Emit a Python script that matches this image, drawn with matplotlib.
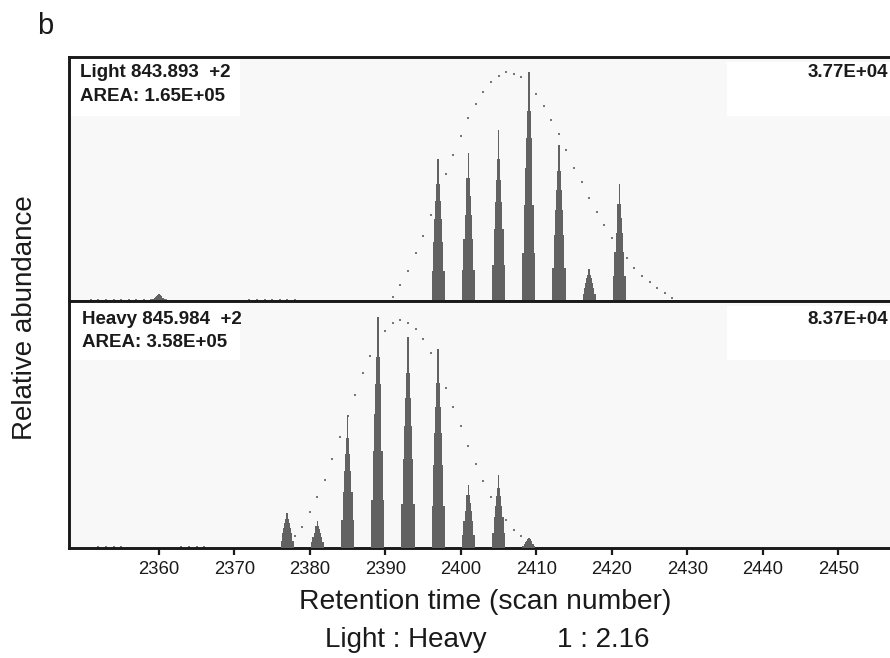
import matplotlib.pyplot as plt
from matplotlib.patches import Rectangle

plt.rcParams['font.family'] = ['Liberation Sans', 'DejaVu Sans']

# peak apexes (scan number) and relative heights, light and heavy traces
light_peak_scan = [2360, 2397, 2401, 2405, 2409, 2413, 2417, 2421]
light_peak_height = [0.03, 0.58, 0.605, 0.70, 0.94, 0.64, 0.13, 0.48]
heavy_peak_scan = [2377, 2381, 2385, 2389, 2393, 2397, 2401, 2405, 2409]
heavy_peak_height = [0.142, 0.108, 0.538, 0.934, 0.855, 0.804, 0.257, 0.295, 0.042]

# dotted envelope (one dot per scan)
light_dot_scan = [2351, 2352, 2353, 2354, 2355, 2356, 2357, 2358, 2359, 2360, 2361,
                  2372, 2373, 2374, 2375, 2376, 2377, 2378,
                  2391, 2392, 2393, 2394, 2395, 2396, 2398, 2399, 2400, 2401,
                  2402, 2403, 2404, 2405, 2406, 2407, 2408, 2410, 2411, 2412,
                  2413, 2414, 2415, 2416, 2417, 2418, 2419, 2420, 2422, 2423,
                  2424, 2425, 2426, 2427, 2428, 2429]
light_dot_value = [0.006] * 11 + [0.006] * 7 + [
    0.018, 0.064, 0.123, 0.195, 0.266, 0.351, 0.52, 0.597, 0.676, 0.749,
    0.807, 0.858, 0.896, 0.923, 0.937, 0.93, 0.917, 0.847, 0.80, 0.74,
    0.683, 0.619, 0.546, 0.488, 0.423, 0.364, 0.311, 0.259, 0.175, 0.134,
    0.102, 0.077, 0.052, 0.032, 0.011, 0.002]
heavy_dot_scan = [2352, 2353, 2354, 2355, 2363, 2364, 2365, 2366,
                  2378, 2379, 2380, 2381, 2382, 2383, 2384, 2385, 2386, 2387,
                  2388, 2390, 2391, 2392, 2393, 2394, 2395, 2396, 2398, 2399,
                  2400, 2401, 2402, 2403, 2404, 2406, 2407, 2408]
heavy_dot_value = [0.006] * 8 + [
    0.047, 0.085, 0.145, 0.206, 0.277, 0.36, 0.45, 0.535, 0.62, 0.707,
    0.777, 0.879, 0.911, 0.923, 0.911, 0.885, 0.847, 0.79, 0.648, 0.571,
    0.495, 0.411, 0.34, 0.27, 0.206, 0.112, 0.074, 0.047]

xticks = [2360, 2370, 2380, 2390, 2400, 2410, 2420, 2430, 2440, 2450]

# stepped shape of each chromatographic peak: fraction of height, width (scans)
step_frac = [0.21, 0.42, 0.58, 0.71, 0.83, 1.0]
step_width = [1.75, 1.33, 0.97, 0.74, 0.5, 0.22]

peak_color = '#626262'
dot_color = '#777777'
bg = '#f8f8f8'
ink = '#1a1a1a'

fig = plt.figure(figsize=(8.9, 6.58), dpi=100)
ax_top = fig.add_axes([0.0775, 1 - 301 / 658, 0.9225, 244 / 658])
ax_bot = fig.add_axes([0.0775, 1 - 548 / 658, 0.9225, 247 / 658])


def draw_trace(ax, peak_x, peak_h, dot_x, dot_y):
    ax.set_facecolor(bg)
    ax.plot(dot_x, dot_y, ls='none', marker='s', ms=2.0, mew=0,
            color=dot_color, zorder=2)
    for frac, w in zip(step_frac, step_width):
        ax.bar(peak_x, [h * frac for h in peak_h], width=w, color=peak_color,
               linewidth=0, zorder=3)
    ax.set_xlim(2348.1, 2456.85)
    ax.set_ylim(0, 1)
    ax.set_yticks([])
    for s in ['left', 'top', 'bottom']:
        ax.spines[s].set_linewidth(2.1)
        ax.spines[s].set_color(ink)
    ax.spines['right'].set_visible(False)
    # white label boxes
    ax.add_patch(Rectangle((0.003, 0.76), 0.205, 0.235, transform=ax.transAxes,
                           facecolor='white', edgecolor='none', zorder=1))
    ax.add_patch(Rectangle((0.802, 0.76), 0.2, 0.22, transform=ax.transAxes,
                           facecolor='white', edgecolor='none', zorder=1))


draw_trace(ax_top, light_peak_scan, light_peak_height, light_dot_scan, light_dot_value)
draw_trace(ax_bot, heavy_peak_scan, heavy_peak_height, heavy_dot_scan, heavy_dot_value)

ax_top.set_xticks([])
ax_bot.set_xticks(xticks)
ax_bot.tick_params(axis='x', direction='out', length=5, width=1.6,
                   labelsize=13.3, pad=4.5, color=ink, labelcolor=ink)

ax_top.text(0.014, 0.935, 'Light 843.893  +2', transform=ax_top.transAxes,
            fontsize=13.5, fontweight='bold', color=ink, va='center')
ax_top.text(0.014, 0.84, 'AREA: 1.65E+05', transform=ax_top.transAxes,
            fontsize=13.5, fontweight='bold', color=ink, va='center')
ax_top.text(0.998, 0.935, '3.77E+04', transform=ax_top.transAxes, ha='right',
            fontsize=13.5, fontweight='bold', color=ink, va='center')
ax_bot.text(0.016, 0.925, 'Heavy 845.984  +2', transform=ax_bot.transAxes,
            fontsize=13.5, fontweight='bold', color=ink, va='center')
ax_bot.text(0.016, 0.83, 'AREA: 3.58E+05', transform=ax_bot.transAxes,
            fontsize=13.5, fontweight='bold', color=ink, va='center')
ax_bot.text(0.998, 0.925, '8.37E+04', transform=ax_bot.transAxes, ha='right',
            fontsize=13.5, fontweight='bold', color=ink, va='center')

fig.text(45 / 890, 1 - 26 / 658, 'b', fontsize=21, ha='center', va='center',
         color=ink)
fig.text(25 / 890, 1 - 318 / 658, 'Relative abundance', rotation=90, fontsize=20,
         ha='center', va='center', color=ink)
fig.text(485 / 890, 1 - 602 / 658, 'Retention time (scan number)', fontsize=20.3,
         ha='center', va='center', color=ink)
fig.text(325 / 890, 1 - 640 / 658, 'Light : Heavy', fontsize=20,
         ha='left', va='center', color=ink)
fig.text(557 / 890, 1 - 640 / 658, '1 : 2.16', fontsize=20,
         ha='left', va='center', color=ink)

fig.savefig('out.png', dpi=100, facecolor='white')
